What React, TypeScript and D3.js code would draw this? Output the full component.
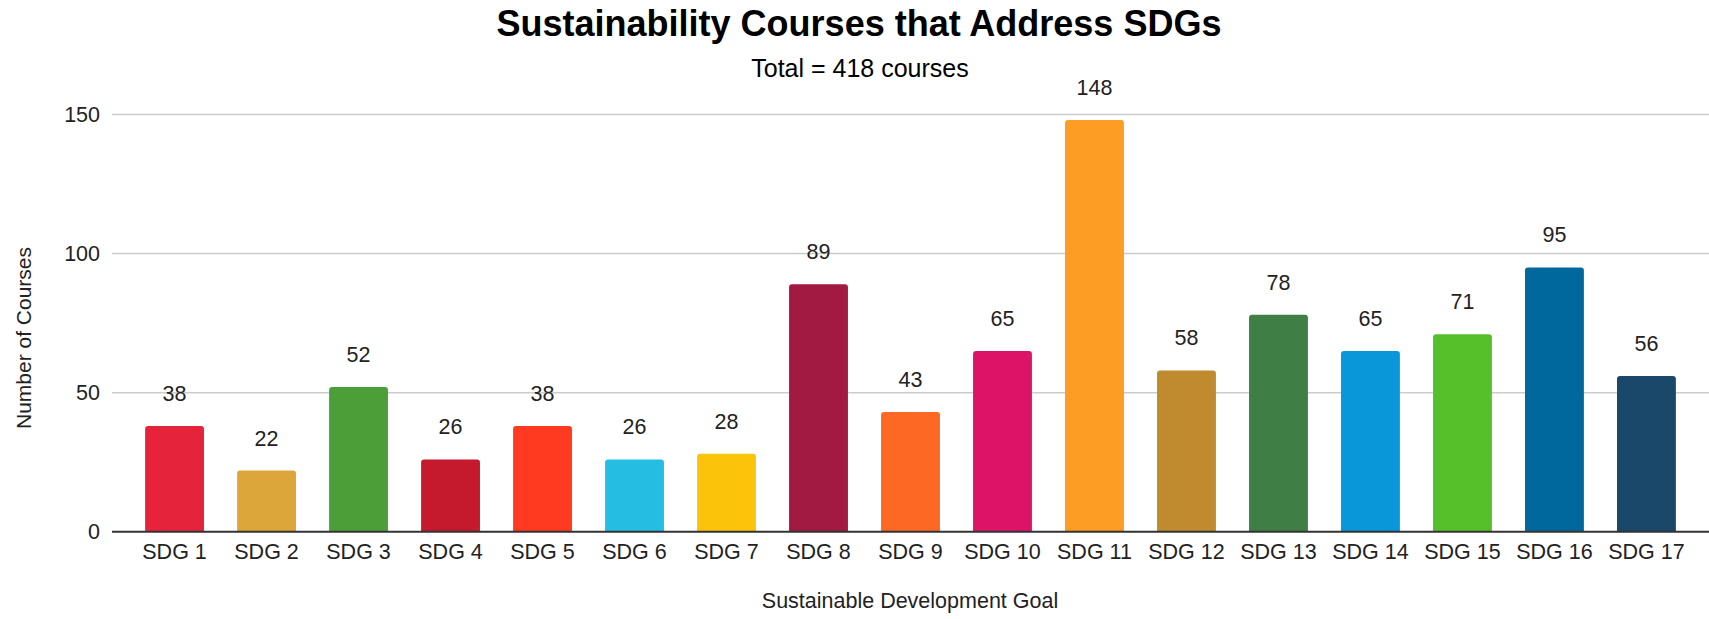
import * as React from 'react';
import { useEffect, useRef } from 'react';
import * as d3 from 'd3';

// Data
const goals: string[] = [
  'SDG 1', 'SDG 2', 'SDG 3', 'SDG 4', 'SDG 5', 'SDG 6', 'SDG 7', 'SDG 8', 'SDG 9',
  'SDG 10', 'SDG 11', 'SDG 12', 'SDG 13', 'SDG 14', 'SDG 15', 'SDG 16', 'SDG 17',
];
const courseCounts: number[] = [38, 22, 52, 26, 38, 26, 28, 89, 43, 65, 148, 58, 78, 65, 71, 95, 56];
const goalColors: string[] = [
  '#E5243B', '#DDA63A', '#4C9F38', '#C5192D', '#FF3A21', '#26BDE2', '#FCC30B', '#A21942', '#FD6925',
  '#DD1367', '#FD9D24', '#BF8B2E', '#3F7E44', '#0A97D9', '#56C02B', '#00689D', '#19486A',
];
const yTicks: number[] = [0, 50, 100, 150];

const chartTitle = 'Sustainability Courses that Address SDGs';
const chartSubtitle = 'Total = 418 courses';
const xTitle = 'Sustainable Development Goal';
const yTitle = 'Number of Courses';

const WIDTH = 1709;
const HEIGHT = 619;
const FONT = '"Liberation Sans", Arial, sans-serif';

// bar with rounded top corners
function topRoundedBar(x: number, y: number, w: number, h: number, r: number): string {
  const rr = Math.min(r, h, w / 2);
  return `M${x},${y + h}V${y + rr}Q${x},${y} ${x + rr},${y}H${x + w - rr}Q${x + w},${y} ${x + w},${y + rr}V${y + h}Z`;
}

const App: React.FC = () => {
  const svgRef = useRef<SVGSVGElement>(null);

  useEffect(() => {
    const svg = d3.select(svgRef.current);
    svg.selectAll('*').remove();

    const margin = { top: 114.5, right: 0, bottom: 87.3, left: 112 };
    const plotW = WIDTH - margin.left - margin.right;
    const plotH = HEIGHT - margin.top - margin.bottom;

    const x = d3.scaleBand<string>()
      .domain(goals)
      .range([0, plotW])
      .paddingInner(0.36)
      .paddingOuter(0.36);

    const y = d3.scaleLinear().domain([0, 150]).range([plotH, 0]);

    svg.append('rect').attr('width', WIDTH).attr('height', HEIGHT).attr('fill', '#fff');

    // titles
    svg.append('text')
      .attr('x', 859)
      .attr('y', 36)
      .attr('text-anchor', 'middle')
      .attr('font-family', FONT)
      .attr('font-weight', 'bold')
      .attr('font-size', 36)
      .attr('fill', '#000')
      .text(chartTitle);

    svg.append('text')
      .attr('x', 860)
      .attr('y', 77)
      .attr('text-anchor', 'middle')
      .attr('font-family', FONT)
      .attr('font-size', 25)
      .attr('fill', '#000')
      .text(chartSubtitle);

    const g = svg.append('g').attr('transform', `translate(${margin.left},${margin.top})`);

    // gridlines
    g.append('g')
      .selectAll('line')
      .data(yTicks.filter(t => t !== 0))
      .enter().append('line')
      .attr('x1', 0)
      .attr('x2', plotW)
      .attr('y1', d => y(d))
      .attr('y2', d => y(d))
      .attr('stroke', '#cccccc')
      .attr('stroke-width', 1.5);

    // y tick labels
    g.append('g')
      .selectAll('text')
      .data(yTicks)
      .enter().append('text')
      .attr('x', -12)
      .attr('y', d => y(d))
      .attr('dy', '0.34em')
      .attr('text-anchor', 'end')
      .attr('font-family', FONT)
      .attr('font-size', 21.5)
      .attr('fill', '#222')
      .text(d => d);

    // bars
    g.append('g')
      .selectAll('path')
      .data(courseCounts)
      .enter().append('path')
      .attr('d', (d, i) => topRoundedBar(x(goals[i]) ?? 0, y(d), x.bandwidth(), plotH - y(d), 3))
      .attr('fill', (_, i) => goalColors[i]);

    // value labels
    g.append('g')
      .selectAll('text')
      .data(courseCounts)
      .enter().append('text')
      .attr('x', (_, i) => (x(goals[i]) ?? 0) + x.bandwidth() / 2)
      .attr('y', d => y(d) - 25)
      .attr('text-anchor', 'middle')
      .attr('font-family', FONT)
      .attr('font-size', 21.5)
      .attr('fill', '#222')
      .text(d => d);

    // baseline
    g.append('line')
      .attr('x1', 0)
      .attr('x2', plotW)
      .attr('y1', plotH)
      .attr('y2', plotH)
      .attr('stroke', '#333')
      .attr('stroke-width', 2);

    // x tick labels
    g.append('g')
      .selectAll('text')
      .data(goals)
      .enter().append('text')
      .attr('x', d => (x(d) ?? 0) + x.bandwidth() / 2)
      .attr('y', plotH + 27)
      .attr('text-anchor', 'middle')
      .attr('font-family', FONT)
      .attr('font-size', 21.5)
      .attr('fill', '#222')
      .text(d => d);

    // axis titles
    svg.append('text')
      .attr('x', 910)
      .attr('y', 608)
      .attr('text-anchor', 'middle')
      .attr('font-family', FONT)
      .attr('font-size', 21.5)
      .attr('fill', '#222')
      .text(xTitle);

    svg.append('text')
      .attr('transform', 'translate(31,338) rotate(-90)')
      .attr('text-anchor', 'middle')
      .attr('font-family', FONT)
      .attr('font-size', 21)
      .attr('fill', '#222')
      .text(yTitle);
  }, []);

  return (
    <svg
      ref={svgRef}
      width={WIDTH}
      height={HEIGHT}
      style={{ position: 'absolute', left: 0, top: 0, display: 'block' }}
    ></svg>
  );
};

export default App;
